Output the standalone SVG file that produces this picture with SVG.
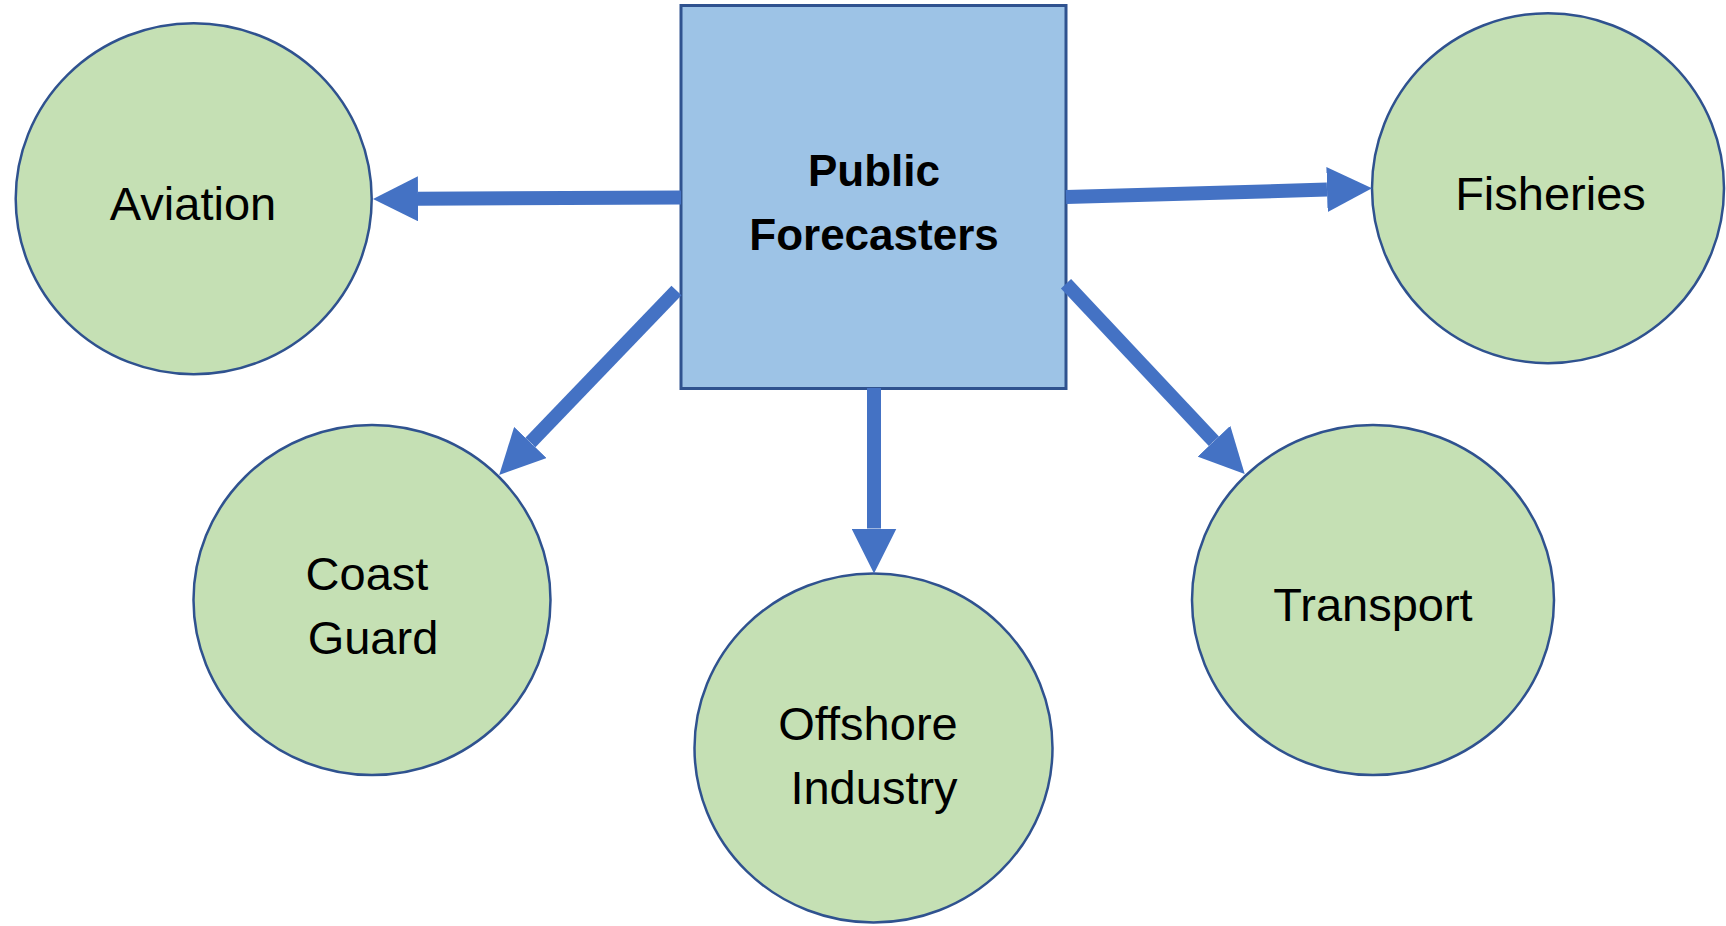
<svg xmlns="http://www.w3.org/2000/svg" width="1726" height="926" viewBox="0 0 1726 926">
<style>
.node{fill:#C5E0B4;stroke:#2F528F;stroke-width:2.5}
.box{fill:#9DC3E6;stroke:#2F528F;stroke-width:3}
.lbl{font-family:"Liberation Sans",Arial,sans-serif;font-size:47px;fill:#000;text-anchor:middle}
.bold{font-weight:bold;font-size:44px}
.conn{stroke:#4472C4;stroke-width:14;fill:none;marker-end:url(#ah)}
</style>
<defs>
<marker id="ah" markerUnits="userSpaceOnUse" viewBox="0 0 45 45" markerWidth="45" markerHeight="45" refX="0" refY="22.5" orient="auto">
<path d="M0,0 L45,22.5 L0,45 Z" fill="#4472C4"/>
</marker>
</defs>
<rect width="1726" height="926" fill="#fff"/>
<g id="public-forecasters">
<rect class="box" x="681" y="5.5" width="385" height="383"/>
<text class="lbl bold" x="874" y="186">Public</text>
<text class="lbl bold" x="874" y="250">Forecasters</text>
</g>
<g id="aviation">
<ellipse class="node" cx="193.7" cy="198.7" rx="178" ry="175.5"/>
<text class="lbl" x="193" y="220">Aviation</text>
</g>
<g id="fisheries">
<ellipse class="node" cx="1548" cy="188.2" rx="176" ry="175"/>
<text class="lbl" x="1550.5" y="210">Fisheries</text>
</g>
<g id="coast-guard">
<ellipse class="node" cx="372" cy="600" rx="178.5" ry="175"/>
<text class="lbl" x="367" y="590">Coast</text>
<text class="lbl" x="373" y="654">Guard</text>
</g>
<g id="offshore-industry">
<ellipse class="node" cx="873.5" cy="748" rx="179" ry="174.5"/>
<text class="lbl" x="868" y="739.5">Offshore</text>
<text class="lbl" x="874" y="803.5">Industry</text>
</g>
<g id="transport">
<ellipse class="node" cx="1373" cy="600" rx="181" ry="175"/>
<text class="lbl" x="1373" y="621">Transport</text>
</g>
<g id="connectors">
<line class="conn" x1="681" y1="197.5" x2="418" y2="198.8"/>
<line class="conn" x1="1066" y1="197" x2="1327" y2="189.6"/>
<line class="conn" x1="874" y1="388" x2="874" y2="528.5"/>
<line class="conn" x1="676.5" y1="290.5" x2="530.4" y2="442.5"/>
<line class="conn" x1="1066" y1="283.8" x2="1213.9" y2="441.2"/>
</g>
</svg>
